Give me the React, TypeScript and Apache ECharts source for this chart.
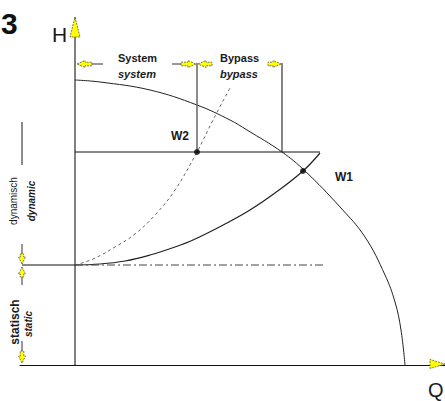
import React, { useEffect, useRef } from "react";
import * as echarts from "echarts";

// Schematic units: Q (flow) and H (head)
const pumpCurve: number[][] = [
  [0, 285], [25, 283], [75, 275], [122, 260], [155, 245], [172, 235], [207, 213],
  [230, 194], [265, 158], [290, 128], [310, 90], [320, 63], [326, 35], [330, 0],
];
const systemCurve: number[][] = [
  [0, 100], [25, 101], [50, 104], [75, 110], [100, 118], [118, 125], [150, 141],
  [175, 155], [200, 172], [228, 194], [245, 212],
];
const bypassCurve: number[][] = [
  [0, 100], [18, 106], [40, 118], [60, 131], [80, 150], [100, 175], [122, 213],
  [138, 245], [155, 277],
];
const staticLeft: number[][] = [[-53, 100], [0, 100]];
const staticLine: number[][] = [[0, 100], [250, 100]];
const operatingLine: number[][] = [[0, 213], [245, 213]];
const systemDim: number[][] = [[122, 213], [122, 302]];
const bypassDim: number[][] = [[207, 213], [207, 302]];
const workPoints: number[][] = [[122, 213], [228, 194]];

const FONT = "Liberation Sans, Arial, sans-serif";

function arrow(tx: number, ty: number, dx: number, dy: number, total: number, headLen: number, headHalf: number, shaftHalf: number) {
  const px = -dy, py = dx;
  const hx = tx - dx * headLen, hy = ty - dy * headLen;
  const bx = tx - dx * total, by = ty - dy * total;
  const pts: number[][] = [[tx, ty], [hx + px * headHalf, hy + py * headHalf]];
  if (total > headLen) {
    pts.push([hx + px * shaftHalf, hy + py * shaftHalf]);
    pts.push([bx + px * shaftHalf, by + py * shaftHalf]);
    pts.push([bx - px * shaftHalf, by - py * shaftHalf]);
    pts.push([hx - px * shaftHalf, hy - py * shaftHalf]);
  }
  pts.push([hx - px * headHalf, hy - py * headHalf]);
  return {
    type: "polygon",
    shape: { points: pts },
    style: { fill: "#ffff00", stroke: "#555", lineWidth: 0.8, lineDash: [2, 1] },
    z: 10,
  };
}

function seg(x1: number, y1: number, x2: number, y2: number, color = "#333", w = 1) {
  return { type: "line", shape: { x1, y1, x2, y2 }, style: { stroke: color, lineWidth: w }, z: 9 };
}

function txt(text: string, x: number, y: number, font: string, opts: any = {}) {
  return {
    type: "text",
    x, y,
    rotation: opts.rotation || 0,
    style: {
      text, font, fill: opts.fill || "#1a1a1a",
      align: opts.align || "left", verticalAlign: opts.va || "middle",
    },
    z: 11,
  };
}

export default function App() {
  const ref = useRef<HTMLDivElement>(null);
  useEffect(() => {
    if (!ref.current) return;
    const chart = echarts.init(ref.current, undefined, { renderer: "svg" });
    const line = (data: number[][], color: string, width: number, type: any = "solid", smooth: any = false) => ({
      type: "line", data, showSymbol: false, smooth, silent: true,
      lineStyle: { color, width, type }, z: 3,
    });
    chart.setOption({
      animation: false,
      backgroundColor: "#ffffff",
      grid: { left: 20, right: 0, top: 18, bottom: 36 },
      xAxis: {
        type: "value", min: -55, max: 370,
        axisLine: { show: true, lineStyle: { color: "#111", width: 1 } },
        axisTick: { show: false }, axisLabel: { show: false }, splitLine: { show: false },
      },
      yAxis: {
        type: "value", min: 0, max: 347,
        axisLine: { show: true, onZero: true, lineStyle: { color: "#808080", width: 2 } },
        axisTick: { show: false }, axisLabel: { show: false }, splitLine: { show: false },
      },
      series: [
        line(pumpCurve, "#222", 1, "solid", 0.4),
        line(systemCurve, "#222", 1.2, "solid", 0.4),
        line(bypassCurve, "#666", 1, [3, 3], 0.4),
        line(staticLeft, "#111", 1),
        line(staticLine, "#444", 1, [8, 3, 2, 3]),
        line(operatingLine, "#111", 1),
        line(systemDim, "#666", 1.5),
        line(bypassDim, "#333", 1.2),
        {
          type: "scatter", data: workPoints, symbolSize: 6, silent: true,
          itemStyle: { color: "#000" }, z: 5,
        },
      ],
      graphic: [
        // axis arrows
        arrow(75, 17, 0, -1, 20, 20, 5, 0),
        arrow(445, 364, 1, 0, 15, 15, 4.5, 0),
        txt("H", 52, 34, `21px ${FONT}`),
        txt("Q", 428, 390, `20px ${FONT}`),
        txt("3", 1, 23, `bold 30px ${FONT}`, { fill: "#111" }),
        // top dimension
        arrow(77, 64, -1, 0, 15, 8, 3.5, 1.8),
        seg(92, 64, 103, 64),
        seg(172, 64, 181, 64),
        arrow(196, 64, 1, 0, 15, 8, 3.5, 1.8),
        arrow(198, 64, -1, 0, 14, 8, 3.5, 1.8),
        arrow(281, 64, 1, 0, 13, 8, 3.5, 1.8),
        txt("System", 118, 58, `bold 11px ${FONT}`),
        txt("system", 118, 74, `italic bold 11px ${FONT}`),
        txt("Bypass", 220, 58, `bold 11px ${FONT}`),
        txt("bypass", 220, 74, `italic bold 11px ${FONT}`),
        // working points labels
        txt("W2", 189, 136, `bold 12px ${FONT}`, { align: "right" }),
        txt("W1", 335, 177, `bold 12px ${FONT}`),
        // left dimension
        seg(22, 122, 22, 165, "#666", 1.5),
        txt("dynamisch", 13, 201, `10px ${FONT}`, { rotation: Math.PI / 2, align: "center" }),
        txt("dynamic", 31, 201, `italic bold 10px ${FONT}`, { rotation: Math.PI / 2, align: "center" }),
        seg(22, 244, 22, 254),
        arrow(22, 264, 0, 1, 10, 7, 3.5, 1.8),
        arrow(22, 267, 0, -1, 10, 7, 3.5, 1.8),
        seg(22, 277, 22, 285),
        txt("statisch", 15, 322, `bold 12px ${FONT}`, { rotation: Math.PI / 2, align: "center" }),
        txt("static", 28, 324, `italic bold 10px ${FONT}`, { rotation: Math.PI / 2, align: "center" }),
        seg(22, 341, 22, 351),
        arrow(22, 363, 0, 1, 12, 7, 3.5, 1.8),
      ],
    });
    return () => chart.dispose();
  }, []);
  return (
    <div
      ref={ref}
      style={{ position: "absolute", left: 0, top: 0, width: 445, height: 401 }}
    />
  );
}
